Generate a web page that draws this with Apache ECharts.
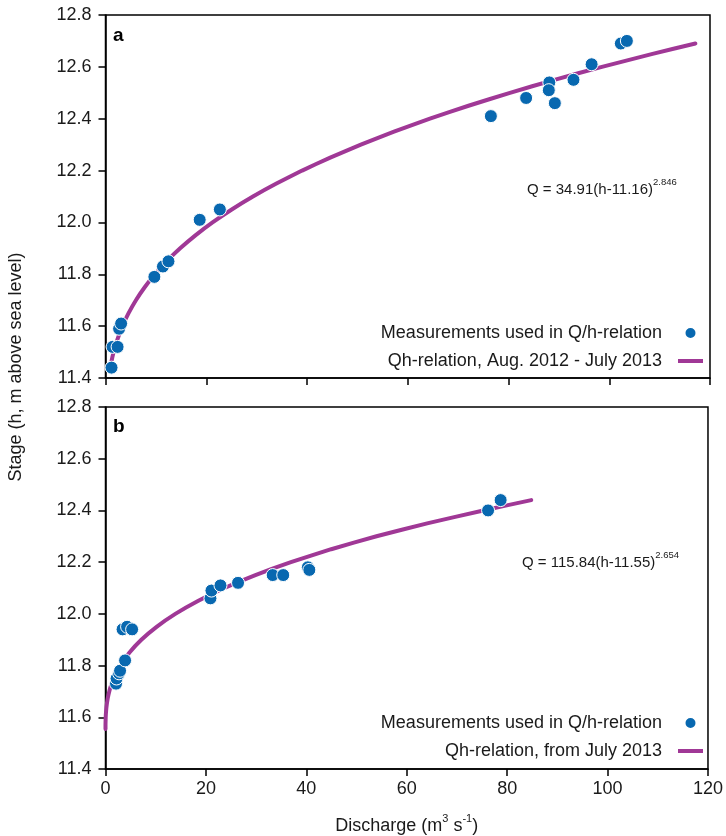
<!DOCTYPE html>
<html>
<head>
<meta charset="utf-8">
<script src="https://cdn.jsdelivr.net/npm/echarts@6/dist/echarts.min.js"></script>
<style>
html,body{margin:0;padding:0;background:#fff;}
#chart{width:726px;height:836px;}
</style>
</head>
<body>
<div id="chart"></div>
<script>
// ---- Data ----
// Panel a: measurements
var topMeasQ = [1.2, 1.4, 2.4, 2.7, 3.1, 9.7, 11.4, 12.5, 18.7, 22.7, 76.5, 83.5, 88.1, 88.0, 89.2, 92.9, 96.5, 102.3, 103.5];
var topMeasH = [11.44, 11.52, 11.52, 11.59, 11.61, 11.79, 11.83, 11.85, 12.01, 12.05, 12.41, 12.48, 12.54, 12.51, 12.46, 12.55, 12.61, 12.69, 12.70];
// Panel a: rating curve
var topCurveQ = [0.84, 1.03, 1.36, 1.62, 2.39, 3.37, 4.58, 6.04, 7.78, 9.80, 12.14, 14.82, 17.85, 21.25, 25.06, 29.27, 33.93, 39.03, 44.61, 50.69, 57.27, 64.40, 72.06, 80.29, 89.12, 98.55, 108.6, 117.1];
var topCurveH = [11.43, 11.45, 11.48, 11.50, 11.55, 11.60, 11.65, 11.70, 11.75, 11.80, 11.85, 11.90, 11.95, 12.00, 12.05, 12.10, 12.15, 12.20, 12.25, 12.30, 12.35, 12.40, 12.45, 12.50, 12.55, 12.60, 12.65, 12.69];
// Panel b: measurements
var botMeasQ = [2.1, 2.2, 2.7, 2.9, 3.9, 3.4, 4.3, 5.3, 20.9, 21.1, 22.9, 26.4, 33.3, 35.4, 40.3, 40.6, 76.2, 78.7];
var botMeasH = [11.73, 11.75, 11.77, 11.78, 11.82, 11.94, 11.95, 11.94, 12.06, 12.09, 12.11, 12.12, 12.15, 12.15, 12.18, 12.17, 12.40, 12.44];
// Panel b: rating curve
var botCurveQ = [0.0, 0.0, 0.01, 0.04, 0.12, 0.26, 0.46, 0.75, 1.13, 1.62, 2.21, 2.92, 4.74, 7.14, 10.18, 13.91, 18.41, 23.70, 29.86, 36.93, 44.96, 53.98, 64.07, 75.26, 84.8];
var botCurveH = [11.555, 11.57, 11.58, 11.60, 11.625, 11.65, 11.675, 11.70, 11.725, 11.75, 11.775, 11.80, 11.85, 11.90, 11.95, 12.00, 12.05, 12.10, 12.15, 12.20, 12.25, 12.30, 12.35, 12.40, 12.44];

var xTicks = [0, 20, 40, 60, 80, 100, 120];
var yTicks = [11.4, 11.6, 11.8, 12.0, 12.2, 12.4, 12.6, 12.8];

var measName = 'Measurements used in Q/h-relation';
var curveNameA = 'Qh-relation, Aug. 2012 - July 2013';
var curveNameB = 'Qh-relation, from July 2013';
var eqA = ['Q = 34.91(h-11.16)', '2.846'];
var eqB = ['Q = 115.84(h-11.55)', '2.654'];
var yTitle = 'Stage (h, m above sea level)';

function pairs(xs, ys) { return xs.map(function (x, i) { return [x, ys[i]]; }); }

var FONT = '"Liberation Sans", Arial, Helvetica, sans-serif';
var BLUE = '#0868b0';
var PURPLE = '#a03896';
var TXT = '#1a1a1a';
var LINE_ICON = 'path://M0,0 L25,0 L25,4 L0,4 Z';

function xAxis(gi, showLabels) {
  return {
    type: 'value', gridIndex: gi, min: xTicks[0], max: xTicks[xTicks.length - 1], interval: 20,
    axisLine: { show: true, onZero: false, lineStyle: { color: '#000', width: 1.5 } },
    axisTick: { show: true, inside: false, length: 7, lineStyle: { color: '#000', width: 1.5 } },
    axisLabel: { show: showLabels, color: TXT, fontSize: 18, fontFamily: FONT, margin: 11 },
    splitLine: { show: false },
    name: showLabels ? '{n|Discharge (m}{s|3}{n| s}{s|-1}{n|)}' : '',
    nameLocation: 'middle', nameGap: 44,
    nameTextStyle: {
      color: TXT, fontFamily: FONT,
      rich: {
        n: { fontSize: 18, color: TXT, fontFamily: FONT, verticalAlign: 'bottom', lineHeight: 22 },
        s: { fontSize: 11, color: TXT, fontFamily: FONT, verticalAlign: 'top', lineHeight: 22 }
      }
    }
  };
}
function yAxis(gi) {
  return {
    type: 'value', gridIndex: gi, min: yTicks[0], max: yTicks[yTicks.length - 1], interval: 0.2,
    axisLine: { show: true, onZero: false, lineStyle: { color: '#000', width: 1.5 } },
    axisTick: { show: true, inside: false, length: 7, lineStyle: { color: '#000', width: 1.5 } },
    axisLabel: { color: TXT, fontSize: 18, fontFamily: FONT, margin: 14, formatter: function (v) { return v.toFixed(1); } },
    splitLine: { show: false }
  };
}
function eqText(eq, left, top) {
  return {
    type: 'text', left: left, top: top,
    style: {
      text: '{a|' + eq[0] + '}{s|' + eq[1] + '}',
      rich: {
        a: { fontSize: 15, fontFamily: FONT, fill: TXT, lineHeight: 20, verticalAlign: 'bottom' },
        s: { fontSize: 9.5, fontFamily: FONT, fill: TXT, lineHeight: 20, verticalAlign: 'top' }
      }
    }
  };
}

var legendCommon = {
  orient: 'vertical', align: 'right', right: 18,
  itemWidth: 25, itemHeight: 12, itemGap: 10,
  textStyle: { color: TXT, fontSize: 18, fontFamily: FONT, padding: [0, 11, 0, 0] },
  selectedMode: false
};

var option = {
  animation: false,
  backgroundColor: '#fff',
  grid: [
    { left: 105.5, right: 16, top: 15, height: 363, show: true, borderColor: '#000', borderWidth: 1.5, containLabel: false },
    { left: 105.5, right: 16, top: 407, height: 362, show: true, borderColor: '#000', borderWidth: 1.5, containLabel: false }
  ],
  xAxis: [xAxis(0, false), xAxis(1, true)],
  yAxis: [yAxis(0), yAxis(1)],
  legend: [
    Object.assign({}, legendCommon, { top: 319, data: [{ name: measName }, { name: curveNameA, icon: LINE_ICON }] }),
    Object.assign({}, legendCommon, { top: 709, data: [{ name: measName }, { name: curveNameB, icon: LINE_ICON }] })
  ],
  series: [
    {
      name: curveNameA, type: 'line', xAxisIndex: 0, yAxisIndex: 0,
      data: pairs(topCurveQ, topCurveH), symbol: 'none', smooth: 0.15,
      lineStyle: { color: PURPLE, width: 4, join: 'round', cap: 'round' }, itemStyle: { color: PURPLE }, z: 2
    },
    {
      name: measName, type: 'scatter', xAxisIndex: 0, yAxisIndex: 0,
      data: pairs(topMeasQ, topMeasH), symbol: 'circle', symbolSize: 13,
      itemStyle: { color: BLUE, borderColor: '#fff', borderWidth: 1, opacity: 1 }, z: 3
    },
    {
      name: curveNameB, type: 'line', xAxisIndex: 1, yAxisIndex: 1,
      data: pairs(botCurveQ, botCurveH), symbol: 'none', smooth: 0.15,
      lineStyle: { color: PURPLE, width: 4, join: 'round', cap: 'round' }, itemStyle: { color: PURPLE }, z: 2
    },
    {
      name: measName, type: 'scatter', xAxisIndex: 1, yAxisIndex: 1,
      data: pairs(botMeasQ, botMeasH), symbol: 'circle', symbolSize: 13,
      itemStyle: { color: BLUE, borderColor: '#fff', borderWidth: 1, opacity: 1 }, z: 3
    }
  ],
  graphic: [
    { type: 'text', left: 113, top: 26, style: { text: 'a', fontSize: 19, fontWeight: 'bold', fontFamily: FONT, fill: '#000' } },
    { type: 'text', left: 113, top: 417, style: { text: 'b', fontSize: 19, fontWeight: 'bold', fontFamily: FONT, fill: '#000' } },
    eqText(eqA, 527, 177),
    eqText(eqB, 522, 550),
    {
      type: 'text', x: 16, y: 367, rotation: Math.PI / 2,
      style: { text: yTitle, fontSize: 18, fontFamily: FONT, fill: TXT, align: 'center', verticalAlign: 'middle' }
    }
  ]
};

var chart = echarts.init(document.getElementById('chart'), null, { renderer: 'canvas' });
chart.setOption(option);
</script>
</body>
</html>
